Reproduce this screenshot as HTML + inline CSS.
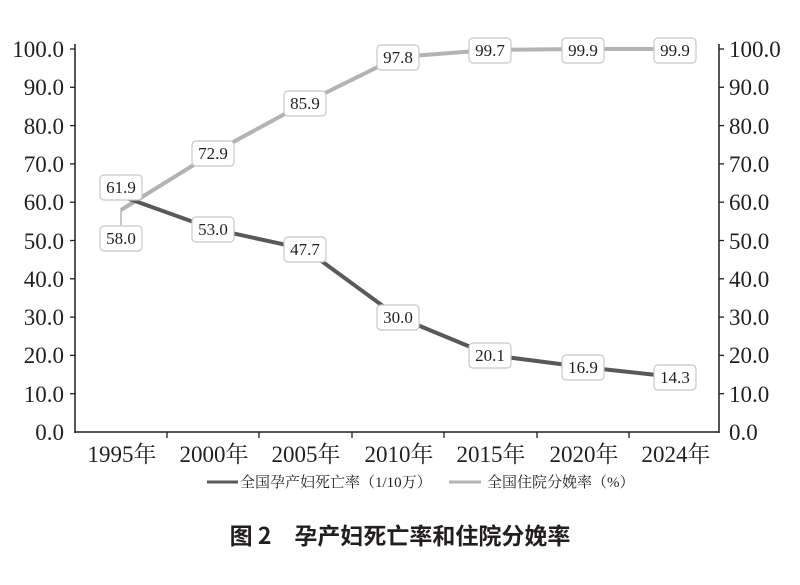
<!DOCTYPE html>
<html><head><meta charset="utf-8"><style>
body{margin:0;background:#fff;}
svg text{font-family:"Liberation Serif","Noto Serif CJK SC",serif;fill:#231f20;}
</style></head><body>
<svg width="800" height="580" viewBox="0 0 800 580" xmlns="http://www.w3.org/2000/svg">
<rect width="800" height="580" fill="#fff"/>
<g stroke="#231f20" stroke-width="1.5" fill="none">
<line x1="75" y1="44" x2="75" y2="433"/>
<line x1="719" y1="44" x2="719" y2="433"/>
<line x1="75" y1="432" x2="719" y2="432"/>
</g>
<g stroke="#231f20" stroke-width="1.3">
<line x1="70" y1="49" x2="75" y2="49"/><line x1="70" y1="87.3" x2="75" y2="87.3"/><line x1="70" y1="125.6" x2="75" y2="125.6"/><line x1="70" y1="163.9" x2="75" y2="163.9"/><line x1="70" y1="202.2" x2="75" y2="202.2"/><line x1="70" y1="240.5" x2="75" y2="240.5"/><line x1="70" y1="278.8" x2="75" y2="278.8"/><line x1="70" y1="317.1" x2="75" y2="317.1"/><line x1="70" y1="355.4" x2="75" y2="355.4"/><line x1="70" y1="393.7" x2="75" y2="393.7"/>
<line x1="719" y1="49" x2="724" y2="49"/><line x1="719" y1="87.3" x2="724" y2="87.3"/><line x1="719" y1="125.6" x2="724" y2="125.6"/><line x1="719" y1="163.9" x2="724" y2="163.9"/><line x1="719" y1="202.2" x2="724" y2="202.2"/><line x1="719" y1="240.5" x2="724" y2="240.5"/><line x1="719" y1="278.8" x2="724" y2="278.8"/><line x1="719" y1="317.1" x2="724" y2="317.1"/><line x1="719" y1="355.4" x2="724" y2="355.4"/><line x1="719" y1="393.7" x2="724" y2="393.7"/>
<line x1="167" y1="432" x2="167" y2="438"/><line x1="259" y1="432" x2="259" y2="438"/><line x1="352" y1="432" x2="352" y2="438"/><line x1="444" y1="432" x2="444" y2="438"/><line x1="537" y1="432" x2="537" y2="438"/><line x1="629" y1="432" x2="629" y2="438"/>
</g>
<g font-size="23" text-anchor="end">
<text x="64" y="57">100.0</text><text x="64" y="95">90.0</text><text x="64" y="134">80.0</text><text x="64" y="172">70.0</text><text x="64" y="210">60.0</text><text x="64" y="249">50.0</text><text x="64" y="287">40.0</text><text x="64" y="325">30.0</text><text x="64" y="363">20.0</text><text x="64" y="402">10.0</text><text x="64" y="440">0.0</text>
</g>
<g font-size="23" text-anchor="start">
<text x="729" y="57">100.0</text><text x="729" y="95">90.0</text><text x="729" y="134">80.0</text><text x="729" y="172">70.0</text><text x="729" y="210">60.0</text><text x="729" y="249">50.0</text><text x="729" y="287">40.0</text><text x="729" y="325">30.0</text><text x="729" y="363">20.0</text><text x="729" y="402">10.0</text><text x="729" y="440">0.0</text>
</g>
<g font-size="23" text-anchor="middle">
<text x="122" y="462">1995年</text><text x="214" y="462">2000年</text><text x="306" y="462">2005年</text><text x="399" y="462">2010年</text><text x="491" y="462">2015年</text><text x="584" y="462">2020年</text><text x="676" y="462">2024年</text>
</g>
<polyline points="121,210 213,153 305,103 398,57 490,50 583,49 675,49" fill="none" stroke="#b3b3b3" stroke-width="4"/>
<line x1="121" y1="210" x2="121" y2="225" stroke="#b3b3b3" stroke-width="1.5"/>
<polyline points="121,196 213,229 305,249 398,317 490,355 583,367 675,377" fill="none" stroke="#595959" stroke-width="4"/>
<g font-size="17" text-anchor="middle">
<g fill="#fff" stroke="#c8c8c8" stroke-width="1.2">
<rect x="100" y="175" width="42" height="25" rx="4"/>
<rect x="100" y="226" width="42" height="25" rx="4"/>
<rect x="192" y="141" width="42" height="25" rx="4"/>
<rect x="284" y="91" width="42" height="25" rx="4"/>
<rect x="377" y="45" width="42" height="25" rx="4"/>
<rect x="469" y="38" width="42" height="25" rx="4"/>
<rect x="562" y="38" width="42" height="25" rx="4"/>
<rect x="654" y="38" width="42" height="25" rx="4"/>
<rect x="192" y="217" width="42" height="25" rx="4"/>
<rect x="284" y="237" width="42" height="25" rx="4"/>
<rect x="377" y="305" width="42" height="25" rx="4"/>
<rect x="469" y="343" width="42" height="25" rx="4"/>
<rect x="562" y="355" width="42" height="25" rx="4"/>
<rect x="654" y="365" width="42" height="25" rx="4"/>
</g>
<text x="121" y="193">61.9</text><text x="121" y="244">58.0</text>
<text x="213" y="159">72.9</text><text x="305" y="109">85.9</text><text x="398" y="63">97.8</text><text x="490" y="56">99.7</text><text x="583" y="56">99.9</text><text x="675" y="56">99.9</text>
<text x="213" y="235">53.0</text><text x="305" y="255">47.7</text><text x="398" y="323">30.0</text><text x="490" y="361">20.1</text><text x="583" y="373">16.9</text><text x="675" y="383">14.3</text>
</g>
<line x1="207" y1="482" x2="238" y2="482" stroke="#595959" stroke-width="3"/>
<text x="240" y="487" font-size="15">全国孕产妇死亡率（1/10万）</text>
<line x1="449" y1="482" x2="481" y2="482" stroke="#b3b3b3" stroke-width="3"/>
<text x="487" y="487" font-size="15">全国住院分娩率（%）</text>
<text x="400" y="544" font-size="23" font-weight="bold" text-anchor="middle" style="font-family:'Noto Sans CJK SC',sans-serif">图 2　孕产妇死亡率和住院分娩率</text>
</svg>
</body></html>
